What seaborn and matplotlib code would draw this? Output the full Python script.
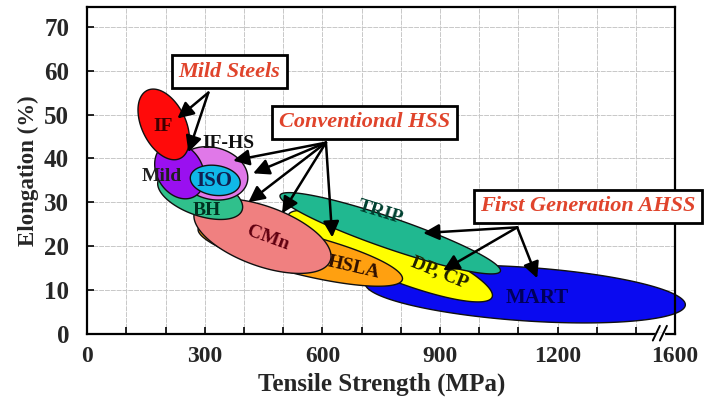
import matplotlib
matplotlib.use('Agg')
import matplotlib.pyplot as plt
import seaborn as sns
import numpy as np

# steel grade "banana" regions: major-axis ends (MPa, %) and half thickness (in % along the screen)
grades = ['MART', 'DP, CP', 'TRIP', 'HSLA', 'CMn', 'BH', 'IF-HS', 'Mild', 'ISO', 'IF']
ts_start = [709, 513, 492, 283, 274, 181, 230, 196, 263, 153]
el_start = [11.6, 27.1, 31.6, 24.0, 27.9, 35.0, 38.7, 43.0, 35.8, 55.5]
ts_end = [1526, 1033, 1054, 804, 620, 395, 408, 275, 390, 237]
el_end = [6.6, 8.4, 14.3, 12.4, 16.7, 28.2, 34.5, 31.4, 34.2, 40.0]
half_w = [6.1, 5.0, 3.5, 4.6, 6.8, 4.6, 5.9, 5.2, 3.4, 5.0]
fills = ['#0a0af0', '#ffff00', '#20b890', '#ffa010', '#f08080', '#30c08c',
         '#e078e8', '#9a10f0', '#10b8e8', '#ff0a0a']

# labels inside the regions
lab_ts = [1148, 900, 747, 679, 462, 304, 360, 191, 324, 194]
lab_el = [8.2, 14.1, 27.7, 15.2, 21.8, 28.2, 43.4, 35.9, 34.8, 47.3]
lab_rot = [0, -22, -17, -13, -20, 0, 0, 0, 0, 0]
lab_size = [15, 14, 14, 14, 14, 14, 14, 14, 15, 14]
lab_col = ['#00005a', '#202000', '#004030', '#301000', '#600010', '#003020',
           '#101010', '#202020', '#102050', '#400000']

# call-out boxes and where their arrows point
groups = ['Mild Steels', 'Conventional HSS', 'First Generation AHSS']
box_ts = [362, 707, 1278]
box_el = [59.8, 48.2, 29.1]
arrow_from = [(309, 55.0), (609, 43.6), (1097, 24.3)]
arrow_to = [[(230, 49.1), (258, 41.4)],
            [(372, 39.5), (423, 36.6), (411, 30.0), (497, 27.5), (625, 22.0)],
            [(857, 23.0), (908, 14.5), (1148, 12.7)]]

xticks = [0, 300, 600, 900, 1200, 1500]
xtick_labels = ['0', '300', '600', '900', '1200', '1600']
yticks = [0, 10, 20, 30, 40, 50, 60, 70]

sns.set_theme(style='white')
plt.rcParams['font.family'] = ['Liberation Serif', 'DejaVu Serif']
plt.rcParams['font.weight'] = 'bold'

fig = plt.figure(figsize=(7.04, 4.0), dpi=100)
ax = fig.add_axes([0.124, 0.165, 0.835, 0.8175])
ax.set_xlim(0, 1500)
ax.set_ylim(0, 74.5)

ax.set_xticks(xticks)
ax.set_xticklabels(xtick_labels)
ax.set_xticks(np.arange(0, 1501, 100), minor=True)
ax.set_yticks(yticks)
ax.grid(True, which='both', axis='x', color='#c8c8c8', lw=0.7, ls=(0, (5, 1)))
ax.grid(True, which='major', axis='y', color='#c8c8c8', lw=0.7, ls=(0, (5, 1)))
ax.tick_params(axis='both', which='both', direction='in', color='black',
               length=5, width=1.2, bottom=True, left=True)
ax.tick_params(axis='x', which='major', labelsize=17, pad=9)
ax.tick_params(axis='y', which='major', labelsize=18, pad=13)
for lab in ax.get_xticklabels() + ax.get_yticklabels():
    lab.set_fontweight('bold')
for s in ax.spines.values():
    s.set_color('black')
    s.set_linewidth(1.6)
ax.set_xlabel('Tensile Strength (MPa)', fontsize=18, fontweight='bold', labelpad=4)
ax.set_ylabel('Elongation (%)', fontsize=16.5, fontweight='bold', labelpad=4)

# ellipses: built in screen space so they stay elliptical, then mapped back to data
fig.canvas.draw()
px_per_pct = ax.transData.transform((0, 1))[1] - ax.transData.transform((0, 0))[1]
t = np.linspace(0, 2 * np.pi, 240)
for i, g in enumerate(grades):
    p1 = ax.transData.transform((ts_start[i], el_start[i]))
    p2 = ax.transData.transform((ts_end[i], el_end[i]))
    c = (p1 + p2) / 2
    d = p2 - p1
    a = np.hypot(*d) / 2
    u = d / (2 * a)
    v = np.array([-u[1], u[0]])
    b = half_w[i] * px_per_pct
    pts = c + np.outer(a * np.cos(t), u) + np.outer(b * np.sin(t), v)
    xy = ax.transData.inverted().transform(pts)
    ax.fill(xy[:, 0], xy[:, 1], facecolor=fills[i], edgecolor='#101010', lw=1.0,
            zorder=2 + i * 0.1, clip_on=False)
    ax.text(lab_ts[i], lab_el[i], g, rotation=lab_rot[i], color=lab_col[i],
            fontsize=lab_size[i], fontweight='bold',
            ha='center', va='center', zorder=4, rotation_mode='anchor')

# call-outs
for j, grp in enumerate(groups):
    for tip in arrow_to[j]:
        ax.annotate('', xy=tip, xytext=arrow_from[j], zorder=5,
                    arrowprops=dict(arrowstyle='-|>', color='black', lw=1.8,
                                    mutation_scale=24, shrinkA=0, shrinkB=0))
    ax.text(box_ts[j], box_el[j], grp, fontsize=16, fontstyle='italic', fontweight='bold',
            color='#e0442c', ha='center', va='center', zorder=6, clip_on=False,
            bbox=dict(boxstyle='square,pad=0.3', facecolor='white', edgecolor='black', lw=2))

# axis break near the last tick
for xb in [0.968, 0.980]:
    ax.plot([xb - 0.006, xb + 0.006], [-0.02, 0.025], transform=ax.transAxes,
            color='black', lw=1.4, clip_on=False, zorder=7)
ax.plot([0.968, 0.980], [0, 0], transform=ax.transAxes, color='white', lw=2.5,
        clip_on=False, zorder=6)

plt.savefig('out.png', dpi=100)
